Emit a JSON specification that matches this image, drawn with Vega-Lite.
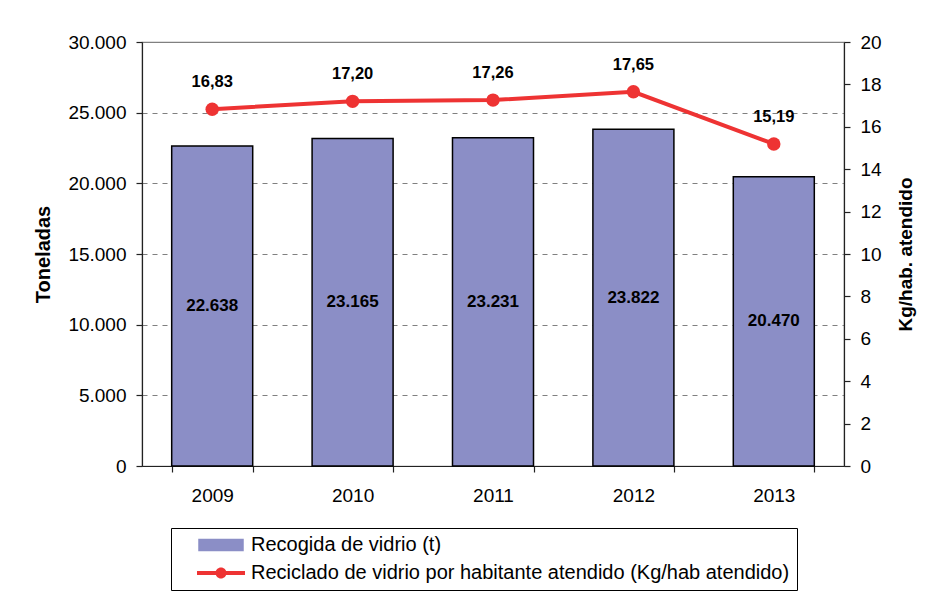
{
  "$schema": "https://vega.github.io/schema/vega-lite/v6.json",
  "width": 702,
  "height": 424,
  "autosize": {"type": "none"},
  "padding": {"left": 142, "top": 42, "right": 84, "bottom": 136},
  "background": "white",
  "config": {
    "font": "Liberation Sans",
    "locale": {"number": {"decimal": ",", "thousands": ".", "grouping": [3], "currency": ["", " €"]}},
    "view": {"stroke": "#808080", "strokeWidth": 1.2},
    "axis": {"labelColor": "black", "titleColor": "black", "labelFont": "Liberation Sans", "titleFont": "Liberation Sans", "domainColor": "#222", "tickColor": "#222", "domainWidth": 1.2, "tickWidth": 1.2}
  },
  "data": {"values": [
    {"year": "2009", "t": 22638, "kg": 16.83},
    {"year": "2010", "t": 23165, "kg": 17.20},
    {"year": "2011", "t": 23231, "kg": 17.26},
    {"year": "2012", "t": 23822, "kg": 17.65},
    {"year": "2013", "t": 20470, "kg": 15.19}
  ]},
  "encoding": {
    "x": {"field": "year", "type": "nominal", "sort": null,
      "scale": {"paddingInner": 0.423, "paddingOuter": 0.2115},
      "axis": {"title": null, "labelAngle": 0, "labelFontSize": 19, "labelPadding": 14, "tickSize": 6, "tickBand": "extent", "grid": false}}
  },
  "layer": [
    {
      "mark": {"type": "bar", "stroke": "black", "strokeWidth": 1.5},
      "encoding": {
        "y": {"field": "t", "type": "quantitative",
          "scale": {"domain": [0, 30000], "nice": false},
          "axis": {"title": "Toneladas", "titleFontSize": 20, "titleFontWeight": "bold", "titlePadding": 14,
            "values": [0, 5000, 10000, 15000, 20000, 25000, 30000], "format": ",d",
            "labelFontSize": 19, "labelPadding": 10, "tickSize": 6,
            "grid": true, "gridColor": "#808080", "gridDash": [5, 5], "gridWidth": 1.2}},
        "color": {"datum": "Recogida de vidrio (t)", "type": "nominal",
          "scale": {"domain": ["Recogida de vidrio (t)", "Reciclado de vidrio por habitante atendido (Kg/hab atendido)"], "range": ["#8B8EC6", "#EE3333"]},
          "legend": {"title": null, "orient": "none", "legendX": 29, "legendY": 486,
            "strokeColor": "black", "padding": 7, "fillColor": "white",
            "labelFontSize": 20, "labelColor": "black", "labelLimit": 0, "labelOffset": 20, "symbolOffset": 33,
            "labelExpr": "datum.label + '\u00a0\u00a0\u00a0'",
            "symbolSize": 400, "rowPadding": 8,
            "encoding": {"symbols": {
              "shape": {"value": {"signal": "datum.value === 'Recogida de vidrio (t)' ? 'M-2.2,-0.55L2.2,-0.55L2.2,0.55L-2.2,0.55Z' : 'M-2.4,-0.2L2.4,-0.2L2.4,0.2L-2.4,0.2Z M0.55,0 A0.55,0.55 0 1,1 -0.55,0 A0.55,0.55 0 1,1 0.55,0 Z'"}},
              "fill": {"value": {"signal": "datum.value === 'Recogida de vidrio (t)' ? '#8B8EC6' : '#EE3333'"}},
              "stroke": {"value": {"signal": "datum.value === 'Recogida de vidrio (t)' ? '#000000' : '#EE3333'"}},
              "strokeWidth": {"value": {"signal": "datum.value === 'Recogida de vidrio (t)' ? 1.5 : 0"}},
              "strokeOpacity": {"value": 1},
              "opacity": {"value": 1}, "fillOpacity": {"value": 1}
            }}}}
      }
    },
    {
      "mark": {"type": "text", "fontWeight": "bold", "fontSize": 17, "color": "black", "baseline": "middle"},
      "encoding": {
        "y": {"field": "t", "type": "quantitative", "scale": {"domain": [0, 60000], "nice": false}, "axis": null},
        "text": {"field": "t", "type": "quantitative", "format": ",d"}
      }
    },
    {
      "encoding": {
        "y": {"field": "kg", "type": "quantitative",
          "scale": {"domain": [0, 20], "nice": false},
          "axis": {"orient": "right", "title": "Kg/hab. atendido", "titleFontSize": 19, "titleFontWeight": "bold", "titleAngle": 270, "titlePadding": 34,
            "values": [0, 2, 4, 6, 8, 10, 12, 14, 16, 18, 20], "labelFontSize": 19, "labelPadding": 10, "tickSize": 6, "grid": false}}
      },
      "layer": [
        {"mark": {"type": "line", "strokeWidth": 4},
         "encoding": {"color": {"datum": "Reciclado de vidrio por habitante atendido (Kg/hab atendido)", "type": "nominal",
          "legend": {"title": null, "orient": "none", "legendX": 29, "legendY": 486,
            "strokeColor": "black", "padding": 7, "fillColor": "white",
            "labelFontSize": 20, "labelColor": "black", "labelLimit": 0, "labelOffset": 20, "symbolOffset": 33,
            "labelExpr": "datum.label + '\u00a0\u00a0\u00a0'",
            "symbolSize": 400, "rowPadding": 8,
            "encoding": {"symbols": {
              "shape": {"value": {"signal": "datum.value === 'Recogida de vidrio (t)' ? 'M-2.2,-0.55L2.2,-0.55L2.2,0.55L-2.2,0.55Z' : 'M-2.4,-0.2L2.4,-0.2L2.4,0.2L-2.4,0.2Z M0.55,0 A0.55,0.55 0 1,1 -0.55,0 A0.55,0.55 0 1,1 0.55,0 Z'"}},
              "fill": {"value": {"signal": "datum.value === 'Recogida de vidrio (t)' ? '#8B8EC6' : '#EE3333'"}},
              "stroke": {"value": {"signal": "datum.value === 'Recogida de vidrio (t)' ? '#000000' : '#EE3333'"}},
              "strokeWidth": {"value": {"signal": "datum.value === 'Recogida de vidrio (t)' ? 1.5 : 0"}},
              "strokeOpacity": {"value": 1},
              "opacity": {"value": 1}, "fillOpacity": {"value": 1}
            }}}}}},
        {"mark": {"type": "point", "filled": true, "size": 180, "color": "#EE3333", "opacity": 1},
         "encoding": {}},
        {"mark": {"type": "text", "fontWeight": "bold", "fontSize": 16.5, "color": "black", "dy": -27},
         "encoding": {"text": {"field": "kg", "type": "quantitative", "format": ".2f"}}}
      ]
    }
  ],
  "resolve": {"scale": {"y": "independent"}}
}
